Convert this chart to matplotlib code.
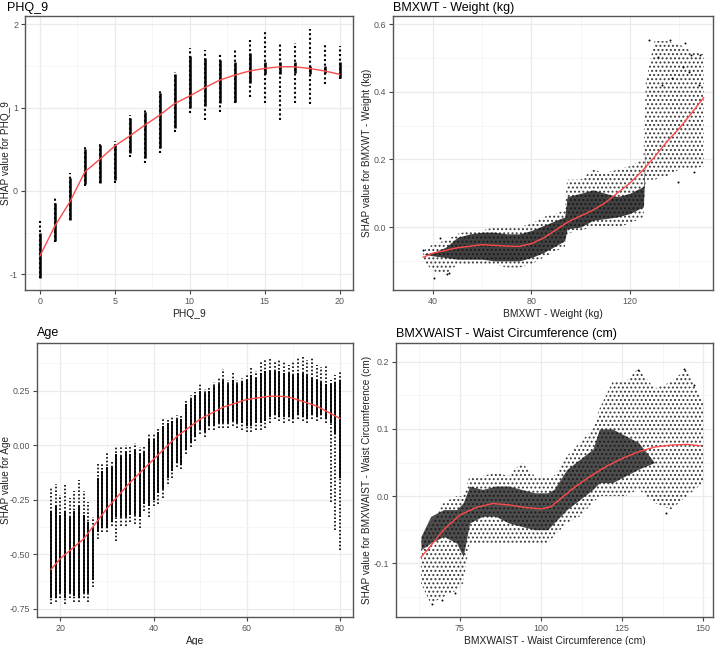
import matplotlib
matplotlib.use("Agg")
import matplotlib.pyplot as plt
from matplotlib.ticker import MultipleLocator, FormatStrFormatter

plt.rcParams['font.family'] = ['Liberation Sans', 'DejaVu Sans']
plt.rcParams['hatch.linewidth'] = 0.9

# ---------------- PHQ_9 ----------------
phq_x = list(range(0, 21))
phq_lo = [-1.05, -0.61, -0.35, 0.06, 0.10, 0.10, 0.41, 0.34, 0.46, 0.71, 0.93,
          0.85, 0.95, 1.06, 1.13, 1.05, 0.85, 1.05, 1.04, 1.28, 1.34]
phq_hi = [-0.36, -0.07, 0.22, 0.53, 0.59, 0.60, 0.91, 0.97, 1.20, 1.43, 1.71,
          1.69, 1.65, 1.69, 1.81, 1.91, 1.78, 1.77, 1.94, 1.78, 1.74]
phq_core_lo = [-1.05, -0.60, -0.35, 0.08, 0.10, 0.13, 0.45, 0.40, 0.52, 0.75, 1.00,
               1.02, 1.05, 1.07, 1.30, 1.40, 1.40, 1.42, 1.40, 1.42, 1.35]
phq_core_hi = [-0.50, -0.15, 0.15, 0.50, 0.55, 0.55, 0.88, 0.95, 1.17, 1.40, 1.62,
               1.60, 1.57, 1.55, 1.65, 1.55, 1.55, 1.55, 1.50, 1.50, 1.55]
phq_fit = [-0.78, -0.42, -0.13, 0.23, 0.38, 0.54, 0.66, 0.79, 0.91, 1.05, 1.14,
           1.24, 1.33, 1.39, 1.44, 1.47, 1.49, 1.49, 1.47, 1.44, 1.40]

# ---------------- Age ----------------
age_x = list(range(18, 81))
age_lo = [-0.73, -0.72, -0.70, -0.73, -0.70, -0.72, -0.72, -0.70, -0.72, -0.65,
          -0.43, -0.40, -0.40, -0.37, -0.44, -0.37, -0.37, -0.35, -0.36, -0.38,
          -0.30, -0.33, -0.28, -0.27, -0.24, -0.18, -0.15, -0.10, -0.11, -0.04,
          -0.01, 0.02, 0.05, 0.04, 0.07, 0.07, 0.08, 0.08, 0.08, 0.09,
          0.08, 0.07, 0.06, 0.06, 0.07, 0.07, 0.08, 0.10, 0.12, 0.11,
          0.10, 0.11, 0.10, 0.12, 0.11, 0.10, 0.12, 0.11, 0.12, 0.10,
          -0.26, -0.39, -0.48]
age_hi = [-0.19, -0.18, -0.23, -0.18, -0.24, -0.21, -0.16, -0.21, -0.26, -0.33,
          -0.08, -0.08, -0.03, -0.07, -0.004, -0.01, 0.00, -0.01, 0.01, -0.01,
          -0.01, 0.05, 0.055, 0.085, 0.12, 0.12, 0.13, 0.14, 0.14, 0.21,
          0.23, 0.245, 0.28, 0.26, 0.27, 0.29, 0.31, 0.35, 0.30, 0.34,
          0.30, 0.31, 0.32, 0.36, 0.34, 0.38, 0.39, 0.40, 0.38, 0.39,
          0.38, 0.37, 0.38, 0.40, 0.41, 0.39, 0.40, 0.37, 0.36, 0.37,
          0.30, 0.32, 0.34]
age_core_lo = [-0.70, -0.70, -0.68, -0.70, -0.68, -0.69, -0.70, -0.68, -0.68, -0.62,
               -0.40, -0.38, -0.38, -0.35, -0.33, -0.33, -0.33, -0.32, -0.32, -0.33,
               -0.27, -0.28, -0.25, -0.22, -0.20, -0.15, -0.12, -0.08, -0.09, -0.02,
               0.01, 0.04, 0.07, 0.06, 0.09, 0.09, 0.10, 0.10, 0.10, 0.11,
               0.10, 0.10, 0.09, 0.09, 0.10, 0.10, 0.11, 0.13, 0.14, 0.13,
               0.13, 0.13, 0.12, 0.14, 0.13, 0.12, 0.14, 0.13, 0.14, 0.12,
               0.10, 0.05, -0.15]
age_core_hi = [-0.30, -0.28, -0.32, -0.30, -0.33, -0.30, -0.28, -0.32, -0.35, -0.38,
               -0.15, -0.12, -0.10, -0.10, -0.04, -0.05, -0.03, -0.04, -0.02, -0.04,
               -0.03, 0.03, 0.03, 0.06, 0.09, 0.10, 0.11, 0.12, 0.12, 0.19,
               0.21, 0.23, 0.25, 0.24, 0.25, 0.27, 0.28, 0.30, 0.28, 0.30,
               0.28, 0.29, 0.30, 0.32, 0.31, 0.33, 0.34, 0.34, 0.34, 0.34,
               0.33, 0.33, 0.32, 0.33, 0.33, 0.32, 0.31, 0.30, 0.29, 0.28,
               0.28, 0.29, 0.30]
age_fit_x = [18, 20, 25, 30, 35, 40, 45, 50, 55, 60, 65, 68, 70, 75, 80]
age_fit = [-0.57, -0.52, -0.43, -0.29, -0.17, -0.065, 0.04, 0.12, 0.175, 0.21,
           0.225, 0.224, 0.215, 0.18, 0.123]

# ---------------- Weight ----------------
wt_x = [36, 40, 45, 50, 55, 60, 65, 70, 75, 80, 85, 90, 93.5, 94.5, 100, 105,
        110, 115, 120, 125.5, 126.5, 130, 135, 140, 145, 150]
wt_lo = [-0.10, -0.13, -0.14, -0.11, -0.11, -0.11, -0.11, -0.12, -0.12, -0.11,
         -0.09, -0.07, -0.06, -0.02, -0.01, 0.00, 0.00, 0.00, 0.01, 0.03,
         0.14, 0.14, 0.15, 0.17, 0.17, 0.18]
wt_hi = [-0.07, -0.05, -0.04, -0.02, -0.01, -0.01, 0.00, 0.00, 0.00, 0.01,
         0.03, 0.04, 0.05, 0.14, 0.14, 0.17, 0.16, 0.17, 0.18, 0.20,
         0.43, 0.55, 0.55, 0.54, 0.52, 0.51]
wt_core_lo = [-0.08, -0.085, -0.09, -0.095, -0.095, -0.095, -0.10, -0.10, -0.10, -0.09,
              -0.075, -0.055, -0.04, -0.005, 0.00, 0.02, 0.025, 0.03, 0.04, 0.06,
              0.25, 0.26, 0.28, 0.28, 0.30, 0.30]
wt_core_hi = [-0.08, -0.075, -0.06, -0.03, -0.02, -0.015, -0.015, -0.02, -0.02, -0.01,
              0.005, 0.02, 0.03, 0.09, 0.10, 0.11, 0.10, 0.09, 0.10, 0.12,
              0.25, 0.26, 0.28, 0.28, 0.30, 0.30]
wt_out_x = [127.6, 136.5, 142.5, 131.5, 148.7, 145.0, 144.0, 141.5, 133.0, 137.0,
            148.0, 139.5, 146.0, 40.5, 45.5, 46.5, 42.7, 36.0]
wt_out_y = [0.553, 0.553, 0.543, 0.503, 0.51, 0.508, 0.459, 0.472, 0.42, 0.44,
            0.42, 0.133, 0.163, -0.151, -0.14, -0.135, -0.031, -0.067]
wt_fit_x = [36, 40, 50, 60, 70, 75, 80, 85, 90, 95, 100, 105, 110, 115, 120,
            125, 130, 135, 140, 145, 150]
wt_fit = [-0.089, -0.077, -0.061, -0.052, -0.056, -0.057, -0.049, -0.032, -0.008,
          0.016, 0.033, 0.05, 0.072, 0.101, 0.130, 0.166, 0.207, 0.252, 0.291,
          0.336, 0.383]

# ---------------- Waist ----------------
ws_x = [63, 66, 70, 74, 76, 78, 82, 86, 90, 94, 98, 102, 104, 108, 112, 116,
        118, 122, 126, 130, 135, 140, 145, 150]
ws_lo = [-0.13, -0.16, -0.15, -0.14, -0.13, -0.07, -0.07, -0.07, -0.07, -0.07,
         -0.07, -0.07, -0.06, -0.04, -0.03, -0.01, 0.00, 0.00, 0.00, 0.01,
         -0.01, -0.02, 0.00, 0.02]
ws_hi = [-0.06, -0.04, -0.01, 0.00, 0.00, 0.03, 0.03, 0.035, 0.03, 0.05,
         0.03, 0.03, 0.03, 0.06, 0.08, 0.10, 0.13, 0.17, 0.17, 0.19,
         0.16, 0.17, 0.19, 0.14]
ws_core_lo = [-0.08, -0.07, -0.06, -0.07, -0.09, -0.04, -0.03, -0.03, -0.04, -0.045,
              -0.05, -0.05, -0.04, -0.02, -0.005, 0.01, 0.02, 0.02, 0.03, 0.04,
              0.05, 0.05, 0.05, 0.05]
ws_core_hi = [-0.06, -0.03, -0.02, -0.02, -0.01, 0.015, 0.01, 0.015, 0.015, 0.01,
              0.005, 0.005, 0.01, 0.04, 0.055, 0.07, 0.10, 0.10, 0.09, 0.08,
              0.05, 0.05, 0.05, 0.05]
ws_out_x = [66.5, 69.5, 73.5, 138.5, 144.0, 130.0, 147.0]
ws_out_y = [-0.16, -0.155, -0.145, -0.025, 0.19, 0.188, 0.165]
ws_fit_x = [63, 65, 70, 75, 80, 85, 90, 95, 100, 103, 105, 110, 115, 120, 125,
            130, 135, 140, 145, 149]
ws_fit = [-0.091, -0.080, -0.050, -0.028, -0.017, -0.011, -0.013, -0.017, -0.019,
          -0.016, -0.008, 0.012, 0.029, 0.044, 0.056, 0.066, 0.073, 0.076, 0.077,
          0.075]

W, H = 720, 645
fig = plt.figure(figsize=(W / 100, H / 100), dpi=100)


def make_ax(l, t, r, b):
    return fig.add_axes([l / W, 1 - b / H, (r - l) / W, (b - t) / H])


RED = '#ff4a4a'
GRID = '#ebebeb'
GRIDMIN = '#f5f5f5'


def style(ax, title, xlabel, ylabel, xmaj, ymaj, yfmt, title_x, title_y,
          ylab_x, ax_left, ax_w):
    ax.set_facecolor('white')
    for s in ax.spines.values():
        s.set_color('#555555')
        s.set_linewidth(1.0)
    ax.xaxis.set_major_locator(MultipleLocator(xmaj))
    ax.xaxis.set_minor_locator(MultipleLocator(xmaj / 2))
    ax.yaxis.set_major_locator(MultipleLocator(ymaj))
    ax.yaxis.set_minor_locator(MultipleLocator(ymaj / 2))
    ax.yaxis.set_major_formatter(FormatStrFormatter(yfmt))
    ax.grid(True, which='major', color=GRID, lw=0.9, zorder=0)
    ax.grid(True, which='minor', color=GRIDMIN, lw=0.6, zorder=0)
    ax.set_axisbelow(True)
    ax.tick_params(which='major', length=3, width=0.8, color='#444444',
                   labelsize=6.4, labelcolor='#555555', pad=2)
    ax.tick_params(which='minor', length=0)
    ax.set_xlabel(xlabel, fontsize=7.4, color='#222222', labelpad=2)
    ax.set_ylabel(ylabel, fontsize=7.2, color='#222222', va='center')
    ax.yaxis.set_label_coords((ylab_x - ax_left) / ax_w, 0.5)
    fig.text(title_x / W, 1 - title_y / H, title, fontsize=9.0, color='black',
             ha='left', va='center')


HATCH_C = '#3a3a3a'

# Panel 1: PHQ_9
ax1 = make_ax(25, 16, 353, 290)
ax1.vlines(phq_x, phq_lo, phq_hi, colors='black', lw=1.5,
           linestyles=(0, (1, 1.2)), zorder=2)
ax1.vlines(phq_x, phq_core_lo, phq_core_hi, colors='black', lw=1.8, zorder=3)
ax1.plot(phq_x, phq_fit, color=RED, lw=1.0, zorder=4)
ax1.set_xlim(-1.0, 20.9)
ax1.set_ylim(-1.19, 2.1)
style(ax1, 'PHQ_9', 'PHQ_9', 'SHAP value for PHQ_9', 5, 1, '%g', 7, 8,
      6.5, 25, 328)

# Panel 2: Weight
ax2 = make_ax(393, 16, 713, 290)
ax2.fill_between(wt_x, wt_lo, wt_hi, facecolor='none', edgecolor=HATCH_C,
                 hatch='....', lw=0, zorder=2)
ax2.fill_between(wt_x, wt_core_lo, wt_core_hi, color='#111111', alpha=0.8,
                 lw=0, zorder=3)
ax2.scatter(wt_out_x, wt_out_y, s=2, color='black', lw=0, zorder=3)
ax2.plot(wt_fit_x, wt_fit, color=RED, lw=1.0, zorder=4)
ax2.set_xlim(23.7, 153.8)
ax2.set_ylim(-0.186, 0.624)
style(ax2, 'BMXWT - Weight (kg)', 'BMXWT - Weight (kg)',
      'SHAP value for BMXWT - Weight (kg)', 40, 0.2, '%.1f', 393, 8,
      367, 393, 320)

# Panel 3: Age
ax3 = make_ax(37, 343, 353, 617)
ax3.vlines(age_x, age_lo, age_hi, colors='black', lw=1.2,
           linestyles=(0, (1, 1.2)), zorder=2)
ax3.vlines(age_x, age_core_lo, age_core_hi, colors='black', lw=1.3, zorder=3)
ax3.plot(age_fit_x, age_fit, color=RED, lw=1.0, zorder=4)
ax3.set_xlim(15.0, 82.8)
ax3.set_ylim(-0.788, 0.469)
style(ax3, 'Age', 'Age', 'SHAP value for Age', 20, 0.25, '%.2f', 37, 333,
      6.5, 37, 316)

# Panel 4: Waist
ax4 = make_ax(396, 343, 713, 617)
ax4.fill_between(ws_x, ws_lo, ws_hi, facecolor='none', edgecolor=HATCH_C,
                 hatch='....', lw=0, zorder=2)
ax4.fill_between(ws_x, ws_core_lo, ws_core_hi, color='#111111', alpha=0.75,
                 lw=0, zorder=3)
ax4.scatter(ws_out_x, ws_out_y, s=2, color='black', lw=0, zorder=3)
ax4.plot(ws_fit_x, ws_fit, color=RED, lw=1.0, zorder=4)
ax4.set_xlim(55.3, 153.0)
ax4.set_ylim(-0.18, 0.228)
style(ax4, 'BMXWAIST - Waist Circumference (cm)',
      'BMXWAIST - Waist Circumference (cm)',
      'SHAP value for BMXWAIST - Waist Circumference (cm)', 25, 0.1, '%.1f',
      396, 334, 367, 396, 317)

fig.savefig('out.png', dpi=100, facecolor='white')
